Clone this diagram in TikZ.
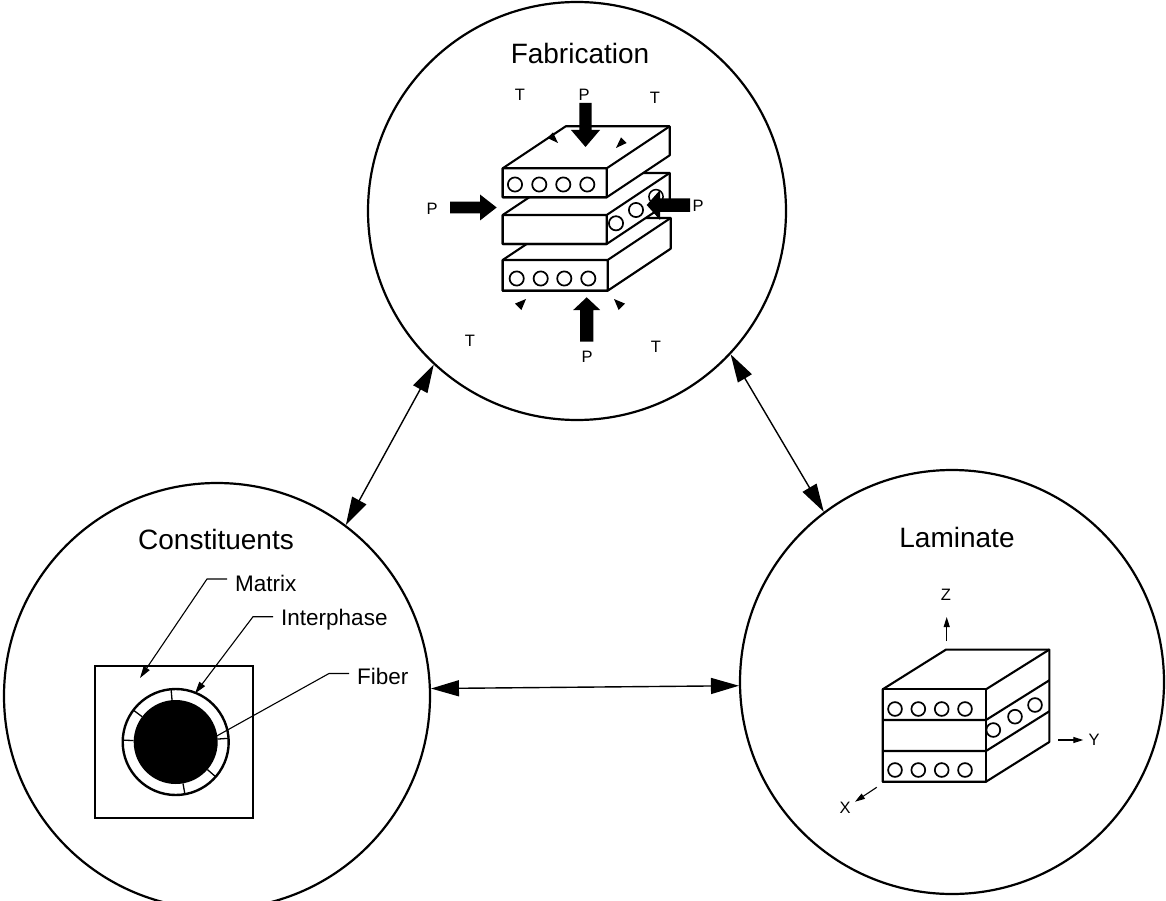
\documentclass[tikz,border=0pt]{standalone}
\usepackage{fontspec}
\setmainfont{Liberation Sans}
\usetikzlibrary{arrows.meta}
\newcommand{\fslab}[4]{%
  \filldraw[edge,fill=white] (#1,#2) -- ++(63,-42) -- ++(#3,0) -- ++(0,#4) -- ++(-63,42) -- ++(-#3,0) -- cycle;
  \draw[edge] (#1,#2) rectangle ++(#3,#4) (#1+#3,#2) -- ++(63,-42);
}
\begin{document}
\begin{tikzpicture}[x=1pt,y=-1pt,
  bigcirc/.style={circle,draw,line width=2.2pt,inner sep=0pt},
  title/.style={font=\fontsize{28}{30}\selectfont,inner sep=0pt},
  lbl/.style={font=\fontsize{22.5}{24}\selectfont,inner sep=0pt,anchor=west},
  small/.style={font=\fontsize{16.5}{18}\selectfont,inner sep=0pt},
  link/.style={line width=1.4pt,{Triangle[length=28pt,width=16pt]}-{Triangle[length=28pt,width=16pt]}},
  leader/.style={line width=1.1pt,-{Triangle[length=12pt,width=7pt]}},
  axis/.style={line width=1.1pt,-{Triangle[length=10pt,width=6pt]}},
  edge/.style={line width=2.1pt,line join=round},
  fib/.style={line width=1.7pt,fill=white},
]
\useasboundingbox (0,0) rectangle (1166,901);
\fill[white] (0,0) rectangle (1166,901);

% main circles
\node[bigcirc,minimum size=418pt] (fab) at (577,211) {};
\node[bigcirc,minimum size=426pt] (con) at (217,696) {};
\node[bigcirc,minimum size=424pt] (lam) at (952,682) {};

\node[title] (fabt) at (580,53) {Fabrication};
\node[title] (cont) at (216,539) {Constituents};
\node[title] (lamt) at (957,537) {Laminate};

% connectors
\draw[link] (fab.227.4) -- (con.53.6);
\draw[link] (fab.-43.3) -- (lam.127.2);
\draw[link] (con.2.4) -- (lam.181.35);

% ---------- Constituents ----------
\node[draw,line width=2pt,minimum width=157.7pt,minimum height=152.3pt,inner sep=0pt] (cell) at (173.85,742.15) {};
\filldraw[line width=2.4pt,fill=white] (175.7,742) circle[radius=53];
\fill (175.7,742) circle[radius=42];
\foreach \a in {-95,-143,-178,80,41,-4}
  \draw[line width=1.3pt] ([shift={(\a:42)}]175.7,742) -- ([shift={(\a:53)}]175.7,742);

\node[lbl] (mat) at (235,583) {Matrix};
\node[lbl] (intp) at (281,620) {Interphase};
\node[lbl] (fibr) at (357,676) {Fiber};
\coordinate (mtip) at (140,678);
\coordinate (itip) at (195,693.5);
\coordinate (ftip) at (216.7,736);
\draw[leader] ([xshift=-8pt,yshift=4pt]mat.west) -- ++(-20,0) -- (mtip);
\draw[leader] ([xshift=-8pt,yshift=3.3pt]intp.west) -- ++(-20,0) -- (itip);
\draw[line width=1.1pt] ([xshift=-8pt,yshift=2.5pt]fibr.west) -- ++(-20,0) -- (ftip);

% ---------- Fabrication ----------
\fslab{502.7}{260}{105}{30.7}
\foreach \x in {516.7,540.7,564.3,588.3} \draw[fib] (\x,278.5) circle[radius=7.1];
\fslab{502.7}{215}{104}{29}
\foreach \x/\y in {616/223.3,636/210} \draw[fib] (\x,\y) circle[radius=7.1];
\fslab{502.7}{168.3}{104}{29}
\foreach \x in {515,539.3,563.3,587.3} \draw[fib] (\x,184.5) circle[radius=7.1];

% pressure arrows
\fill (579.3,103) -- (591.7,103) -- (591.7,130) -- (600,130) -- (585.5,147) -- (571,130) -- (579.3,130) -- cycle;
\fill (586.7,297.3) -- (600.2,310) -- (593.4,310) -- (593.4,341.7) -- (580,341.7) -- (580,310) -- (573.2,310) -- cycle;
\fill (450,201.7) -- (480,201.7) -- (480,194.5) -- (496.7,207.5) -- (480,220.5) -- (480,213.3) -- (450,213.3) -- cycle;
\fill (690,198.3) -- (660,198.3) -- (660,190) -- (646.7,205) -- (660,220) -- (660,212) -- (690,212) -- cycle;
\draw[line width=1.5pt] (656,196.7) circle[radius=7.1];

% heat arrowheads
\fill (558,143) -- (553,132.4) -- (547.4,138) -- cycle;
\fill (616,148) -- (626.6,143) -- (621,137.4) -- cycle;
\fill (526,299) -- (521.4,310) -- (515,303.6) -- cycle;
\fill (614,299) -- (625,303.6) -- (618.6,310) -- cycle;

\node[small] (p1) at (584,95) {P};
\node[small] (p2) at (587,357) {P};
\node[small] (p3) at (432,209) {P};
\node[small] (p4) at (698,206) {P};
\node[small] (t1) at (520,95) {T};
\node[small] (t2) at (655,98) {T};
\node[small] (t3) at (470,341) {T};
\node[small] (t4) at (656,347) {T};

% ---------- Laminate ----------
\filldraw[edge,fill=white] (882.7,689.3) -- ++(63.3,-39.7) -- ++(103.3,0) -- ++(0,92.4) -- ++(-63.3,39.7) -- ++(-103.3,0) -- cycle;
\draw[edge] (882.7,689.3) rectangle ++(103.3,92.4);
\draw[edge] (986,689.3) -- ++(63.3,-39.7);
\draw[edge] (882.7,720) -- ++(103.3,0) -- ++(63.3,-39.7);
\draw[edge] (882.7,751) -- ++(103.3,0) -- ++(63.3,-39.7);
\foreach \x in {895,918.3,941.7,965} {
  \draw[fib] (\x,709) circle[radius=6.9];
  \draw[fib] (\x,770) circle[radius=6.9];
}
\foreach \x/\y in {993.3/730,1015/716.7,1035/705} \draw[fib] (\x,\y) circle[radius=6.9];

\coordinate (zb) at (946.7,641);
\coordinate (zt) at (946.7,617);
\coordinate (yb) at (1058.3,740);
\coordinate (yt) at (1083.3,740);
\coordinate (xb) at (876.7,787.3);
\coordinate (xt) at (855,801.7);
\draw[axis] (zb) -- (zt);
\draw[axis] (yb) -- (yt);
\draw[axis] (xb) -- (xt);
\node[small] (zl) at (946,595) {Z};
\node[small] (yl) at (1094,740) {Y};
\node[small] (xl) at (845,808) {X};
\end{tikzpicture}
\end{document}
